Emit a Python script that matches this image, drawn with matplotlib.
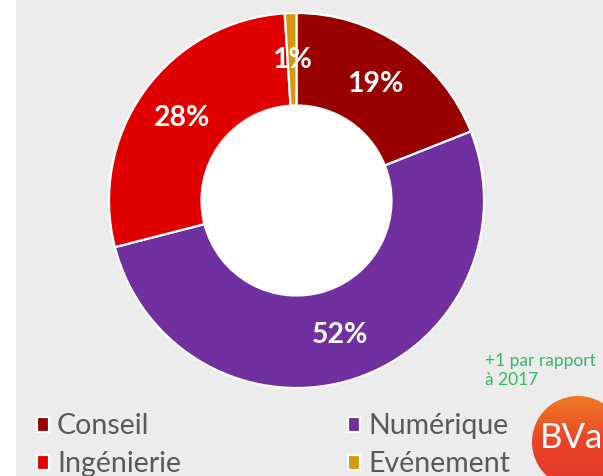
import matplotlib
matplotlib.use("Agg")
import matplotlib.pyplot as plt
import numpy as np
from matplotlib.patches import Circle, Rectangle

# data
categories = ["Conseil", "Numérique", "Ingénierie", "Evénement"]
values = [19, 52, 28, 1]
colors = ["#990000", "#7030a0", "#e00000", "#d6980c"]
note = "+1 par rapport\nà 2017"

W, H = 603, 476
fig = plt.figure(figsize=(W / 100, H / 100), dpi=100)
fig.patch.set_facecolor("white")

# grey panel (white strip on the left)
fig.patches.append(Rectangle((16 / W, 0), 1, 1, transform=fig.transFigure,
                             facecolor="#ececec", edgecolor="none", zorder=-10))

# donut axes: center (296.5, 200.5) px, outer radius 187.5 px
cx, cy, half = 296.5, 200.5, 200
ax = fig.add_axes([(cx - half) / W, (H - cy - half) / H, 2 * half / W, 2 * half / H])

r_out = 187.5 / half
r_in = 95 / half
wedges, _, autotexts = ax.pie(
    values, colors=colors, startangle=90, counterclock=False, radius=r_out,
    autopct=lambda p: f"{p:.0f}%", pctdistance=141 / 187.5,
    wedgeprops=dict(width=r_out - r_in, edgecolor="white", linewidth=1.6),
    textprops=dict(color="white", fontsize=20.5, fontweight="bold", family="Lato"),
)
ax.add_patch(Circle((0, 0), r_in, facecolor="white", edgecolor="none", zorder=0.5))
ax.set_xlim(-1, 1)
ax.set_ylim(-1, 1)
ax.set_aspect("equal")
ax.axis("off")

# legend, two columns
order = [0, 2, 1, 3]
fig.legend([wedges[i] for i in order], [categories[i] for i in order],
           ncol=2, loc="lower left", bbox_to_anchor=(11 / W, -27 / H),
           frameon=False, labelcolor="#595959",
           prop=dict(family="Lato", size=20.5),
           handlelength=0.42, handleheight=0.42, handletextpad=0.3,
           columnspacing=5.85, labelspacing=0.42)

# note
fig.text(485 / W, 1 - 353 / H, note, color="#33b865", fontsize=12.5,
         family="Lato", va="top", ha="left", linespacing=1.2)

# BVA logo
lx, ly, lr = 578, 442, 46
lax = fig.add_axes([0, 0, 1, 1], facecolor="none")
lax.axis("off")
grad = np.linspace(0, 1, 100).reshape(-1, 1)
img = lax.imshow(grad, extent=(lx - lr, lx + lr, ly + lr, ly - lr),
                 cmap=matplotlib.colors.LinearSegmentedColormap.from_list(
                     "bva", ["#f07a22", "#e8432a", "#e33a2a"]),
                 origin="upper", aspect="auto")
clip = Circle((lx, ly), lr, transform=lax.transData)
img.set_clip_path(clip)
lax.set_xlim(0, W)
lax.set_ylim(H, 0)
lax.text(540, ly - 4, "BVa", color="white", fontsize=25, family="Lato",
         ha="left", va="center")

fig.savefig("out.png", dpi=100, facecolor=fig.get_facecolor())
